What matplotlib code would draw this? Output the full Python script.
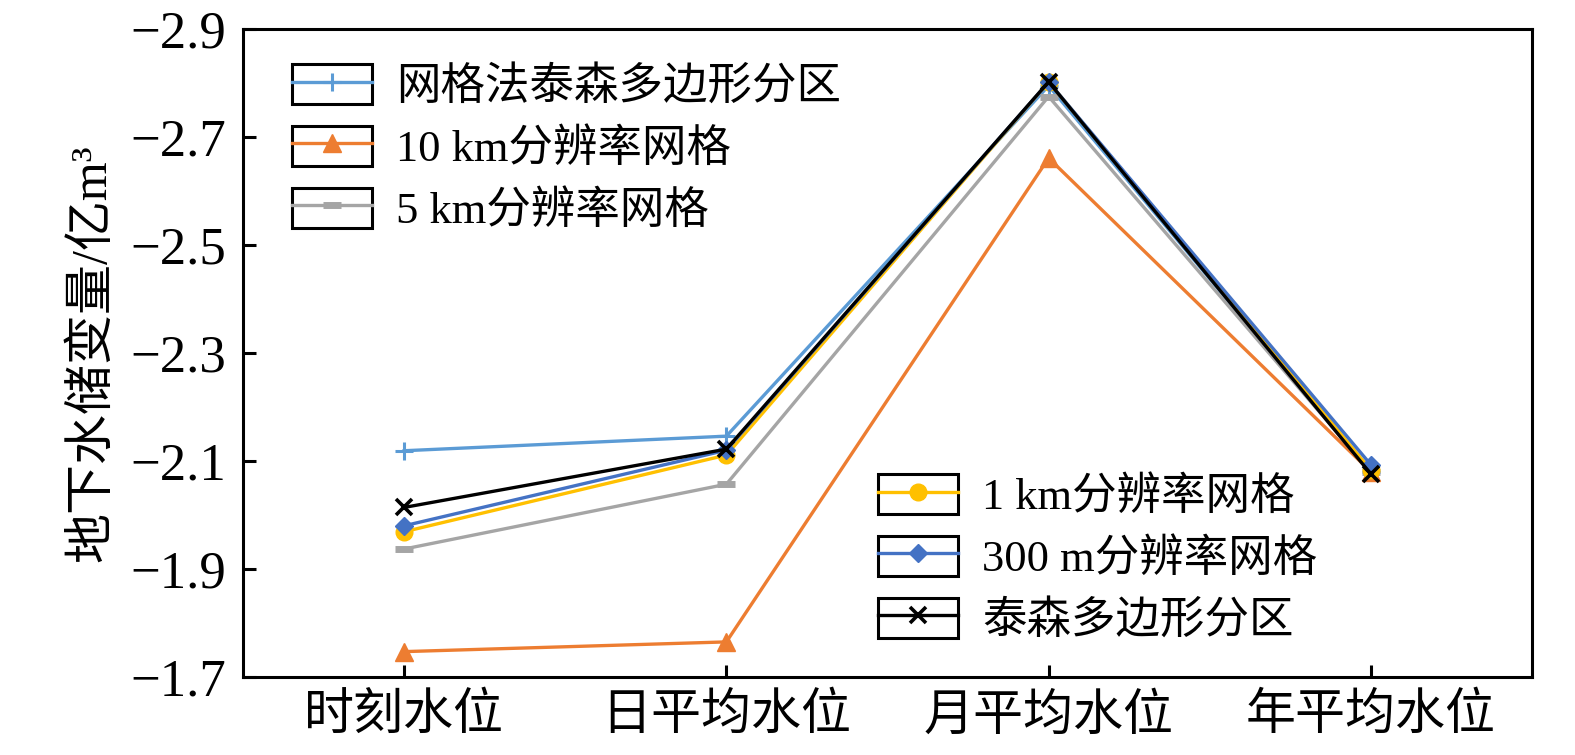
import matplotlib
matplotlib.use("Agg")
import matplotlib.pyplot as plt
from matplotlib.legend_handler import HandlerLine2D
from matplotlib.patches import Rectangle

plt.rcParams["font.family"] = ["Liberation Serif", "Noto Sans CJK SC"]
plt.rcParams["axes.unicode_minus"] = True

# 数据
categories = ["时刻水位", "日平均水位", "月平均水位", "年平均水位"]
names = ["网格法泰森多边形分区", "10 km分辨率网格", "5 km分辨率网格",
         "1 km分辨率网格", "300 m分辨率网格", "泰森多边形分区"]
grid_thiessen = [-2.119, -2.146, -2.795, -2.080]
res_10km = [-1.747, -1.765, -2.661, -2.080]
res_5km = [-1.937, -2.057, -2.775, -2.080]
res_1km = [-1.969, -2.111, -2.802, -2.083]
res_300m = [-1.980, -2.120, -2.802, -2.093]
thiessen = [-2.014, -2.122, -2.802, -2.076]
yticks = [-2.9, -2.7, -2.5, -2.3, -2.1, -1.9, -1.7]

styles = [
    dict(color="#5B9BD5", marker="+", ms=13, mew=2.2),
    dict(color="#ED7D31", marker="^", ms=13),
    dict(color="#A5A5A5", marker="_", ms=13, mew=5),
    dict(color="#FFC000", marker="o", ms=12),
    dict(color="#4472C4", marker="D", ms=9),
    dict(color="#000000", marker="x", ms=12, mew=2.6),
]
series = [grid_thiessen, res_10km, res_5km, res_1km, res_300m, thiessen]


class BoxedLine(HandlerLine2D):
    # 图例句柄外加黑框
    def create_artists(self, legend, orig_handle, xdescent, ydescent,
                       width, height, fontsize, trans):
        arts = super().create_artists(legend, orig_handle, xdescent, ydescent,
                                      width, height, fontsize, trans)
        box = Rectangle((-xdescent, -ydescent), width, height, fill=False,
                        edgecolor="black", lw=2.2, transform=trans)
        return [box] + list(arts)


fig = plt.figure(figsize=(15.75, 7.55), dpi=100)
ax = fig.add_axes([243 / 1575, 1 - 677 / 755, (1532 - 243) / 1575, 648 / 755])

x = range(len(categories))
lines = []
for vals, name, st in zip(series, names, styles):
    ln, = ax.plot(x, vals, lw=2.4, label=name, **st)
    lines.append(ln)

ax.set_xlim(-0.5, 3.5)
ax.set_ylim(-1.7, -2.9)
ax.set_yticks(yticks)
ax.set_yticklabels([f"{v:.1f}".replace("-", "\u2212") for v in yticks])
ax.set_xticks(list(x))
ax.set_xticklabels(categories)
ax.tick_params(direction="in", length=9, width=2.2, labelsize=36, pad=12)
ax.tick_params(axis="y", labelsize=38)
for s in ax.spines.values():
    s.set_linewidth(2.2)
ax.set_ylabel("地下水储变量/亿m³", fontsize=36, labelpad=10)

common = dict(frameon=False, fontsize=32, handlelength=1.8, handleheight=1.0,
              handletextpad=0.55, labelspacing=0.4, borderpad=0, borderaxespad=0,
              handler_map={matplotlib.lines.Line2D: BoxedLine()})
leg1 = ax.legend(handles=lines[:3], loc="upper left",
                 bbox_to_anchor=((292 - 243) / 1289, 1 - (64 - 29) / 648), **common)
ax.add_artist(leg1)
ax.legend(handles=lines[3:], loc="upper left",
          bbox_to_anchor=((878 - 243) / 1289, 1 - (474 - 29) / 648), **common)

fig.savefig("out.png", dpi=100)
